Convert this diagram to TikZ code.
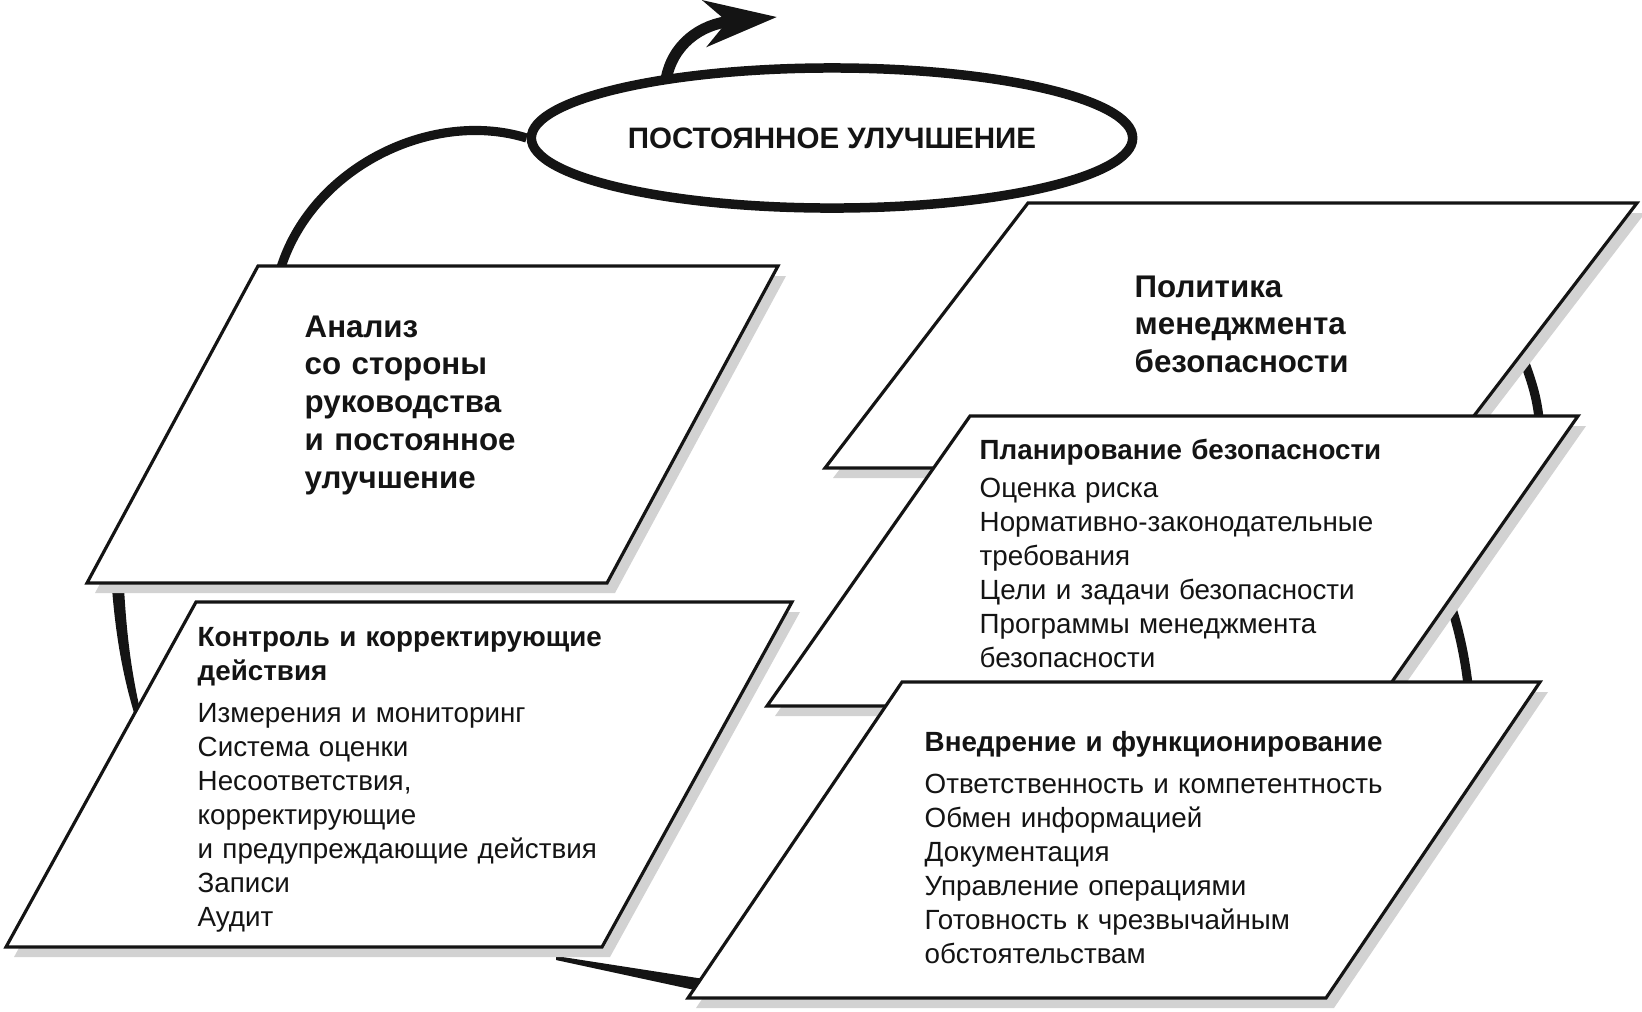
\documentclass[tikz,border=0pt]{standalone}
\usepackage{fontspec}
\setmainfont{Liberation Sans}
\usetikzlibrary{arrows.meta,shapes.geometric}
\definecolor{pdcink}{HTML}{141414}
\definecolor{pdcshade}{HTML}{D2D2D2}
\tikzset{
  pane/.style={draw=pdcink, line width=0.9pt, fill=white},
  dropsh/.style={fill=pdcshade},
  cyc/.style={draw=pdcink, line width=2.6pt},
  ttl/.style={anchor=base west, inner sep=0pt, text width=4cm, align=left, text=pdcink, font=\bfseries\fontsize{8.9}{10.8}\selectfont},
  lst/.style={anchor=base west, inner sep=0pt, text width=5.4cm, align=left, text=pdcink, font=\fontsize{7.9}{9.67}\selectfont},
}
\begin{document}
\begin{tikzpicture}[x=0.01cm, y=-0.01cm]
  \useasboundingbox (0,0) rectangle (1642,1011);

  % continual improvement
  \node[ellipse, draw=pdcink, line width=2.7pt, fill=white, minimum width=6.01cm, minimum height=1.4cm, inner sep=0pt,
        font=\bfseries\fontsize{8.4}{10}\selectfont, text=pdcink] (cimp) at (832,138) {ПОСТОЯННОЕ УЛУЧШЕНИЕ};

  % the cycle, behind the panes
  \coordinate (c0) at (278,278);
  \coordinate (a0) at (666,80);
  \coordinate (a1) at (777,17);
  \coordinate (r0) at (1522,355);
  \coordinate (r1) at (1540,430);
  \coordinate (r2) at (1449,600);
  \coordinate (r3) at (1469,695);
  \draw[cyc] (c0) .. controls (305,170) and (430,108) .. (cimp.west);
  \draw[cyc, line width=3.2pt, -{Stealth[length=0.72cm, width=0.46cm, inset=0.22cm]}] (a0) .. controls (672,45) and (700,24) .. (a1);
  \draw[cyc] (r0) .. controls (1533,385) and (1538,400) .. (r1);
  \draw[cyc] (r2) .. controls (1458,625) and (1466,660) .. (r3);
  \fill[pdcink] (556,956) -- (704,979) -- (704,992) -- (556,960) -- cycle;
  \fill[pdcink] (112,588) .. controls (116,640) and (124,680) .. (135,716) -- (141,714)
    .. controls (132,675) and (127,640) .. (124,588) -- cycle;

  % panes: name/x/y/width/height/slant
  \foreach \nm/\x/\y/\w/\h/\s in {pol/1028/203/609/265/203, plan/970/416/608/290/203,
      impl/902/682/638/316/214, anl/258/266/520/317/171, ctrl/196/602/596/345/190}
  {
    \fill[dropsh] (\x+8,\y+10) -- ++(\w,0) -- ++(-\s,\h) -- ++(-\w,0) -- cycle;
    \draw[pane] (\x,\y) coordinate (\nm-nw) -- ++(\w,0) -- ++(-\s,\h) -- ++(-\w,0) -- cycle;
  }

  \node[ttl] (anl) at (304,337) {Анализ\\со стороны\\руководства\\и постоянное\\улучшение};
  \node[ttl] (pol) at (1134,297) {Политика\\менеджмента\\безопасности};
  \node[lst] (plan) at (979,459) {\textbf{Планирование безопасности}\\[1.3pt]
    Оценка риска\\Нормативно-законодательные\\требования\\Цели и задачи безопасности\\Программы менеджмента\\безопасности};
  \node[lst] (ctrl) at (197,646) {\textbf{Контроль и корректирующие}\\\textbf{действия}\\[2.5pt]
    Измерения и мониторинг\\Система оценки\\Несоответствия,\\корректирующие\\и предупреждающие действия\\Записи\\Аудит};
  \node[lst] (impl) at (924,751) {\textbf{Внедрение и функционирование}\\[2.3pt]
    Ответственность и компетентность\\Обмен информацией\\Документация\\Управление операциями\\Готовность к чрезвычайным\\обстоятельствам};
\end{tikzpicture}
\end{document}
